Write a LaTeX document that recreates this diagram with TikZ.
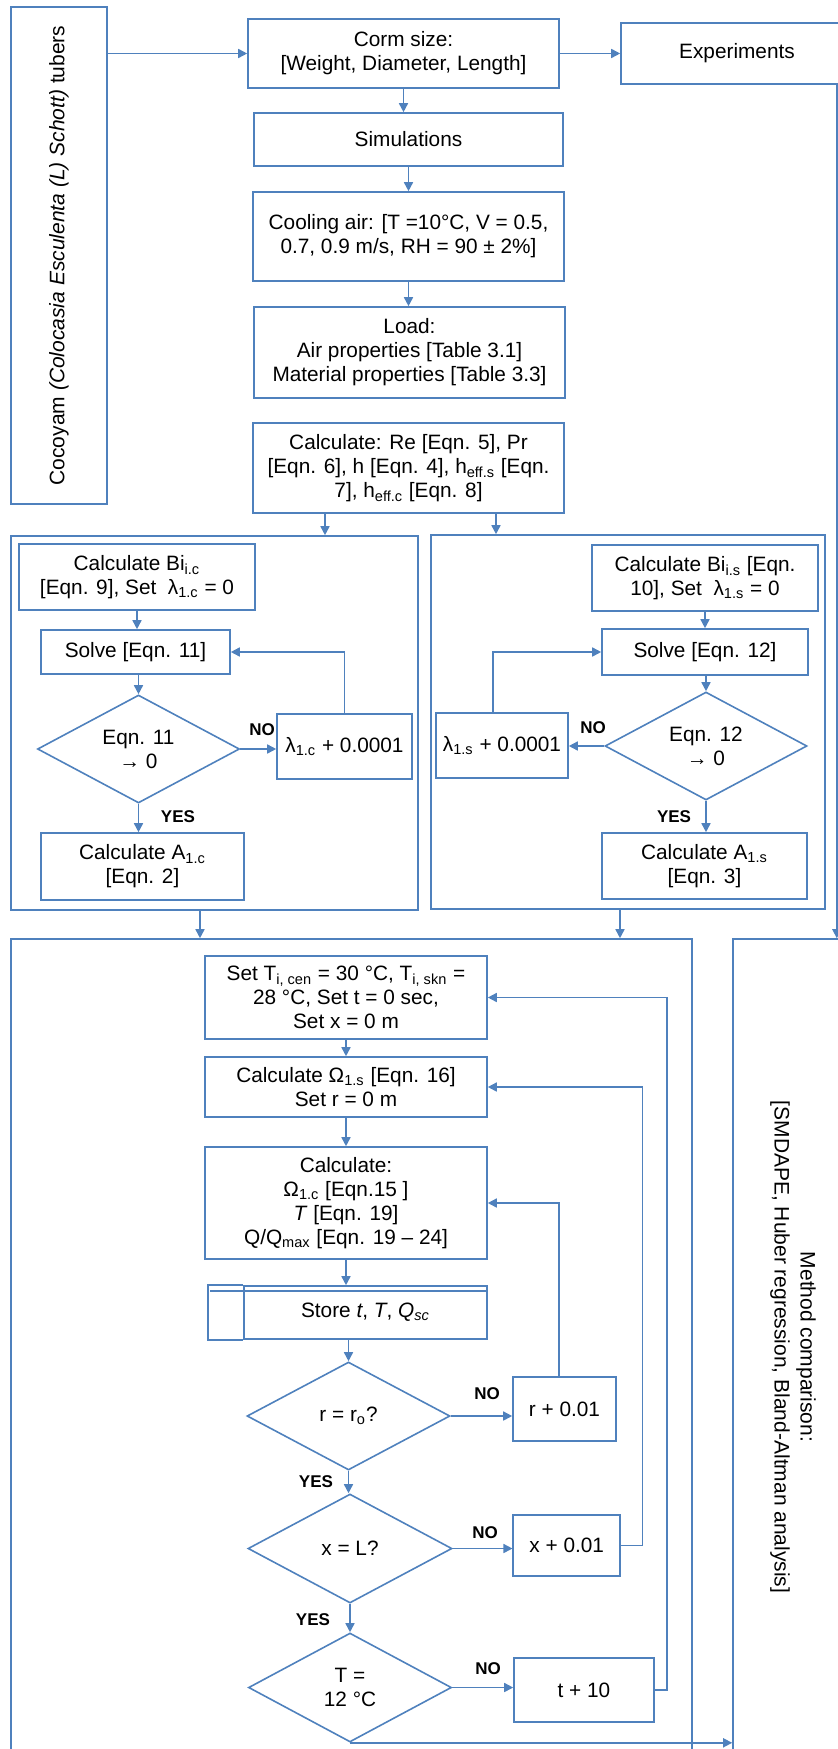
\documentclass[tikz,border=0pt]{standalone}
\usepackage{fontspec}
\setmainfont{Liberation Sans}
\usetikzlibrary{arrows.meta,shapes.geometric}
\definecolor{flowblue}{RGB}{79,129,189}
\begin{document}
\begin{tikzpicture}[x=0.5pt,y=-0.5pt,
	box/.style={draw=flowblue,line width=0.8pt,align=center,inner sep=1pt,font=\fontsize{10.4}{12}\selectfont},
	decision/.style={box,diamond,aspect=2,inner sep=0pt},
	frame/.style={draw=flowblue,line width=0.8pt},
	arr/.style={draw=flowblue,line width=0.8pt,-{Triangle[length=4.5pt,width=4.5pt]}},
	lbl/.style={font=\fontsize{8.5}{10}\selectfont\bfseries},
	side/.style={box,font=\fontsize{10.5}{13}\selectfont}]
	\useasboundingbox (0,0) rectangle (838,1749);
	\clip (0,0) rectangle (838,1749);
	% top row
	\node[side,rotate=90,minimum width=248.5pt,minimum height=48pt] (cocoyam) at (59,255.5) {Cocoyam \textit{(Colocasia Esculenta (L) Schott)} tubers};
	\node[box,minimum width=155.5pt,minimum height=34.5pt] (corm) at (403.5,53.5) {Corm size:\\{}[Weight, Diameter, Length]};
	\node[box,minimum width=116pt,minimum height=30.5pt] (expt) at (737,53.5) {Experiments};
	\node[box,minimum width=154.5pt,minimum height=26.5pt] (sims) at (408.5,139.5) {Simulations};
	\node[box,minimum width=155.5pt,minimum height=44.5pt] (cool) at (408.5,236.5) {Cooling air: [T =10°C, V = 0.5,\\0.7, 0.9 m/s, RH = 90 ± 2\%]};
	\node[box,minimum width=155.5pt,minimum height=45.5pt] (load) at (409.5,352.5) {Load:\\Air properties [Table 3.1]\\Material properties [Table 3.3]};
	\node[box,minimum width=155.5pt,minimum height=45pt] (calcre) at (408.5,468) {Calculate: Re [Eqn. 5], Pr\\{}[Eqn. 6], h [Eqn. 4], h\textsubscript{eff.s} [Eqn.\\7], h\textsubscript{eff.c} [Eqn. 8]};
	% two branches
	\node[frame,minimum width=203.5pt,minimum height=187pt] (leftbox) at (214.5,723) {};
	\node[frame,minimum width=197pt,minimum height=187pt] (rightbox) at (628,722) {};
	\node[box,minimum width=118pt,minimum height=33pt] (bic) at (137,577) {Calculate Bi\textsubscript{i.c}\\{}[Eqn. 9], Set\ \ λ\textsubscript{1.c} = 0};
	\node[box,minimum width=94.5pt,minimum height=22pt] (solvec) at (135.5,652) {Solve [Eqn. 11]};
	\node[decision,minimum width=101pt,minimum height=54pt] (diamc) at (138.5,749) {Eqn. 11\\→ 0};
	\node[box,minimum width=67.5pt,minimum height=32.5pt] (lamc) at (344.5,746.5) {λ\textsubscript{1.c} + 0.0001};
	\node[box,minimum width=101.5pt,minimum height=33.5pt] (ac) at (142.5,866.5) {Calculate A\textsubscript{1.c}\\{}[Eqn. 2]};
	\node[box,minimum width=113pt,minimum height=33pt] (bis) at (705,578) {Calculate Bi\textsubscript{i.s} [Eqn.\\10], Set\ \ λ\textsubscript{1.s} = 0};
	\node[box,minimum width=103pt,minimum height=23pt] (solves) at (705,652) {Solve [Eqn. 12]};
	\node[decision,minimum width=101pt,minimum height=54pt] (diams) at (706,746) {Eqn. 12\\→ 0};
	\node[box,minimum width=66pt,minimum height=32.5pt] (lams) at (502,745.5) {λ\textsubscript{1.s} + 0.0001};
	\node[box,minimum width=102.5pt,minimum height=33pt] (as) at (704.5,866) {Calculate A\textsubscript{1.s}\\{}[Eqn. 3]};
	\node[lbl] (noc) at (262,730) {NO};
	\node[lbl] (yesc) at (178,817) {YES};
	\node[lbl] (nos) at (593,728) {NO};
	\node[lbl] (yess) at (674,817) {YES};
	% simulation loop
	\node[frame,minimum width=340.5pt,minimum height=408pt] (bigbox) at (351.5,1347) {};
	\node[side,rotate=-90,minimum width=408pt,minimum height=60pt] (method) at (793,1347) {Method comparison:\\{}[SMDAPE, Huber regression, Bland-Altman analysis]};
	\node[box,minimum width=141pt,minimum height=41.5pt] (sett) at (346,997.5) {Set T\textsubscript{i, cen} = 30 °C, T\textsubscript{i, skn} =\\28 °C, Set t = 0 sec,\\Set x = 0 m};
	\node[box,minimum width=141pt,minimum height=30pt] (omega) at (346,1087) {Calculate Ω\textsubscript{1.s} [Eqn. 16]\\Set r = 0 m};
	\node[box,minimum width=141pt,minimum height=56pt] (calc) at (346,1203) {Calculate:\\Ω\textsubscript{1.c} [Eqn.15 ]\\\textit{T} [Eqn. 19]\\Q/Q\textsubscript{max} [Eqn. 19 – 24]};
	\node[box,minimum width=121.5pt,minimum height=26.5pt] (store) at (365.5,1312.5) {Store \textit{t}, \textit{T}, \textit{Q\textsubscript{sc}}};
	\draw[frame] (store.north west) -- ++(-35,0) |- (store.south west);
	\draw[frame] ([yshift=-3pt]store.north east) -- ++(-278,0);
	\node[decision,minimum width=101.5pt,minimum height=54pt] (drr) at (348.5,1416) {r = r\textsubscript{o}?};
	\node[box,minimum width=51.5pt,minimum height=32pt] (rinc) at (564.5,1409) {r + 0.01};
	\node[decision,minimum width=102pt,minimum height=54.5pt] (dxl) at (350,1548.5) {x = L?};
	\node[box,minimum width=53.5pt,minimum height=30.5pt] (xinc) at (566.75,1545.5) {x + 0.01};
	\node[decision,minimum width=101.5pt,minimum height=54.5pt] (dtt) at (350,1687.5) {T =\\12 °C};
	\node[box,minimum width=70pt,minimum height=32pt] (tinc) at (584,1690) {t + 10};
	\node[lbl] (nor) at (487,1394) {NO};
	\node[lbl] (yesr) at (316,1482) {YES};
	\node[lbl] (nox) at (485,1533) {NO};
	\node[lbl] (yesx) at (313,1620) {YES};
	\node[lbl] (not) at (488,1669) {NO};
	% connectors
	\draw[arr] (cocoyam.south |- corm.west) -- (corm.west);
	\draw[arr] (corm.east) -- (corm.east -| expt.west);
	\draw[arr] (corm.south) -- (corm.south |- sims.north);
	\draw[arr] (sims.south) -- (sims.south |- cool.north);
	\draw[arr] (cool.south) -- (cool.south |- load.north);
	\draw[arr] ([xshift=-41.75pt]calcre.south) coordinate (reL) -- (reL |- leftbox.north);
	\draw[arr] ([xshift=43.75pt]calcre.south) coordinate (reR) -- (reR |- rightbox.north);
	\draw[arr] (bic.south) -- (bic.south |- solvec.north);
	\draw[arr] (diamc.north |- solvec.south) -- (diamc.north);
	\draw[arr] (diamc.east) -- (diamc.east -| lamc.west);
	\draw[arr] (lamc.north) |- (solvec.east);
	\draw[arr] (diamc.south) -- (diamc.south |- ac.north);
	\draw[arr] (bis.south) -- (bis.south |- solves.north);
	\draw[arr] (diams.north |- solves.south) -- (diams.north);
	\draw[arr] (diams.west) -- (diams.west -| lams.east);
	\draw[arr] ([xshift=-4.5pt]lams.north) |- (solves.west);
	\draw[arr] (diams.south) -- (diams.south |- as.north);
	\draw[arr] ([xshift=-7.25pt]leftbox.south) coordinate (lbL) -- (lbL |- bigbox.north);
	\draw[arr] ([xshift=-4pt]rightbox.south) coordinate (rbL) -- (rbL |- bigbox.north);
	\coordinate (exptdrop) at ([xshift=-8.5pt]expt.south east);
	\draw[arr] (exptdrop) -- (exptdrop |- method.west);
	\draw[arr] (sett.south) -- (sett.south |- omega.north);
	\draw[arr] (omega.south) -- (omega.south |- calc.north);
	\draw[arr] (calc.south) -- (calc.south |- store.north);
	\draw[arr] (drr.north |- store.south) -- (drr.north);
	\draw[arr] (drr.east) -- (drr.east -| rinc.west);
	\draw[arr] ([xshift=-2.75pt]rinc.north) |- (calc.east);
	\draw[arr] (drr.south) -- (drr.south |- dxl.north);
	\draw[arr] (dxl.east) -- (dxl.east -| xinc.west);
	\draw[arr] (xinc.east) -- ++(21.5,0) |- (omega.east);
	\draw[arr] (dxl.south) -- (dxl.south |- dtt.north);
	\draw[arr] (dtt.east) -- (dtt.east -| tinc.west);
	\draw[arr] (tinc.east) -- ++(12,0) |- (sett.east);
	\draw[arr] (dtt.south) -- (dtt.south -| method.south);
\end{tikzpicture}
\end{document}
